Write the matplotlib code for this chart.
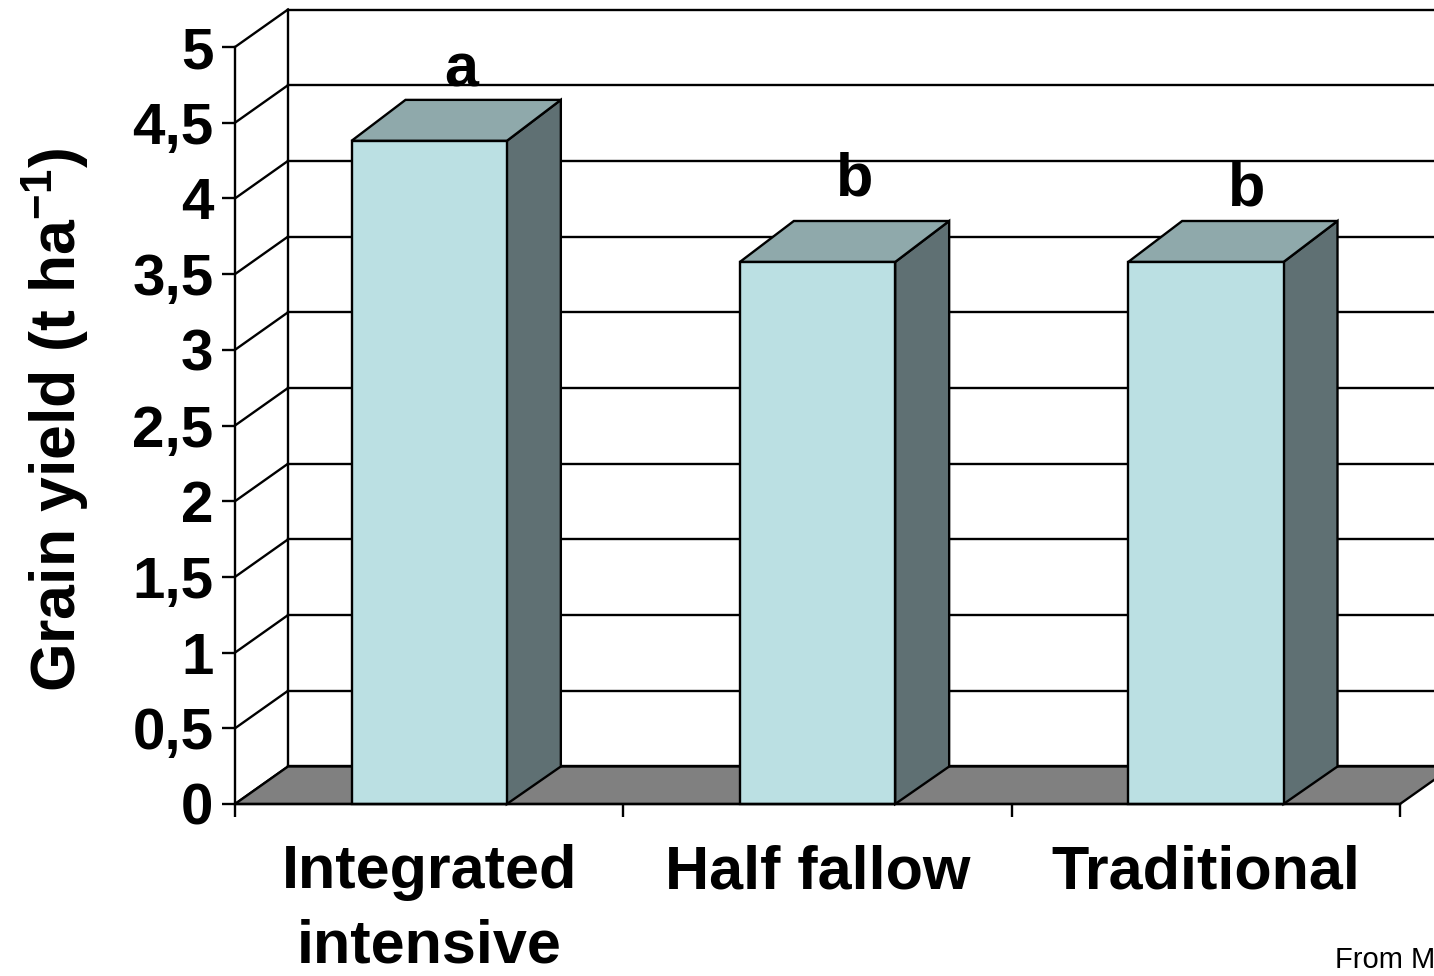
import numpy as np
import matplotlib.pyplot as plt
from matplotlib.patches import Polygon, Rectangle

# ---- data ----
categories = ["Integrated\nintensive", "Half fallow", "Traditional"]
grain_yield = [4.38, 3.58, 3.58]
letters = ["a", "b", "b"]

y_ticks = [0, 0.5, 1, 1.5, 2, 2.5, 3, 3.5, 4, 4.5, 5]
y_tick_labels = ["0", "0,5", "1", "1,5", "2", "2,5", "3", "3,5", "4", "4,5", "5"]

# ---- style ----
plt.rcParams.update({
    "font.family": "Liberation Sans",
    "font.weight": "bold",
    "mathtext.fontset": "custom",
    "mathtext.rm": "Liberation Sans",
    "mathtext.bf": "Liberation Sans:bold",
})

c_front = "#BBE0E3"
c_top = "#8FA9AB"
c_side = "#5F7073"
c_floor = "#808080"
lw = 1.7

fig = plt.figure(figsize=(14.34, 9.76), dpi=100)
# front plane of the 3-D box
ax = fig.add_axes([0.16388, 0.17623, 0.81241, 0.77561])
ax.set_xlim(0, 3)
ax.set_ylim(0, 5)
ax.patch.set_visible(False)

# depth offsets (data units) for walls and for the columns
wdx, wdy = 53 / 388.33, 37.5 / 151.4
bdx, bdy_top = 54 / 388.33, 41 / 151.4
x_far = 3.5

# back wall gridlines + side wall diagonals
for v in y_ticks:
    ax.plot([wdx, x_far], [v + wdy, v + wdy], color="black", lw=lw,
            clip_on=False, zorder=1)
    ax.plot([0, wdx], [v, v + wdy], color="black", lw=lw,
            clip_on=False, zorder=1)
ax.plot([wdx, wdx], [wdy, 5 + wdy], color="black", lw=lw, clip_on=False, zorder=1)

# floor
ax.add_patch(Polygon([(0, 0), (3, 0), (3 + wdx, wdy), (wdx, wdy)],
                     closed=True, facecolor=c_floor, edgecolor="black",
                     lw=lw, clip_on=False, zorder=2))

# columns
bar_w = 0.4
for i, v in enumerate(grain_yield):
    x0 = i + 0.5 - bar_w / 2
    x1 = x0 + bar_w
    ax.add_patch(Polygon([(x1, 0), (x1 + bdx, wdy), (x1 + bdx, v + bdy_top), (x1, v)],
                         closed=True, facecolor=c_side, edgecolor="black",
                         lw=lw, clip_on=False, zorder=3))
    ax.add_patch(Polygon([(x0, v), (x1, v), (x1 + bdx, v + bdy_top), (x0 + bdx, v + bdy_top)],
                         closed=True, facecolor=c_top, edgecolor="black",
                         lw=lw, clip_on=False, zorder=3))
    ax.add_patch(Rectangle((x0, 0), bar_w, v, facecolor=c_front,
                           edgecolor="black", lw=lw, clip_on=False, zorder=4))

# significance letters
letter_offsets = [(23, 39), (27, 48), (29.5, 41)]
for i, (v, s) in enumerate(zip(grain_yield, letters)):
    dx, dy = letter_offsets[i]
    ax.annotate(s, xy=(i + 0.5, v), xytext=(dx, dy), textcoords="offset points",
                ha="center", va="baseline", fontsize=44, fontweight="bold",
                zorder=5, annotation_clip=False)

# axes, ticks
for side in ["top", "right"]:
    ax.spines[side].set_visible(False)
for side in ["left", "bottom"]:
    ax.spines[side].set_linewidth(lw)
    ax.spines[side].set_zorder(5)

ax.set_yticks(y_ticks)
ax.set_yticklabels(y_tick_labels, fontsize=42, fontweight="bold")
ax.tick_params(axis="y", direction="out", length=9.5, width=lw, pad=6)

ax.set_xticks([0, 1, 2, 3])
ax.set_xticklabels([])
ax.tick_params(axis="x", which="major", direction="out", length=9.5, width=lw)
ax.set_xticks([0.5, 1.5, 2.5], minor=True)
ax.set_xticklabels(categories, minor=True, fontsize=44, fontweight="bold",
                   linespacing=1.4)
ax.tick_params(axis="x", which="minor", length=0, pad=29)

fig.text(0.039, 0.57, r"Grain yield (t ha$^{\mathrm{-1}}$)", rotation=90,
         ha="center", va="center", fontsize=45, fontweight="bold")

fig.text(1335 / 1434, 1 - 968 / 976, "From M", ha="left", va="baseline",
         fontsize=21, fontweight="normal")

fig.savefig("out.png", dpi=100)
